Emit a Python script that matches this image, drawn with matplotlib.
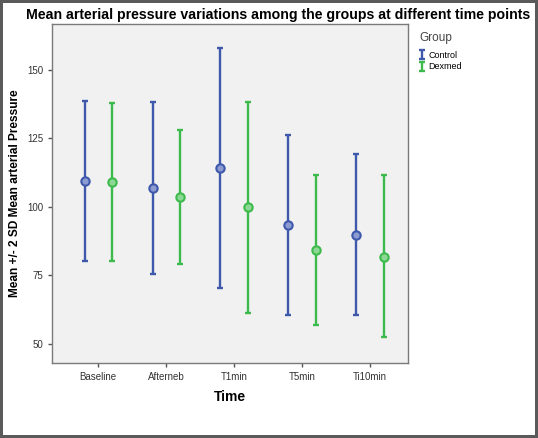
import numpy as np
import matplotlib.pyplot as plt

plt.rcParams["font.family"] = ["Liberation Sans", "DejaVu Sans"]

# ---------- data (mean, mean-2SD, mean+2SD) ----------
time_points = ["Baseline", "Afterneb", "T1min", "T5min", "Ti10min"]

control_mean = [109.3, 106.9, 114.0, 93.3, 89.7]
control_low = [80.2, 75.5, 70.3, 60.5, 60.5]
control_high = [138.4, 138.3, 157.7, 126.0, 119.1]

dexmed_mean = [108.9, 103.5, 99.8, 84.1, 81.7]
dexmed_low = [80.3, 79.1, 61.2, 56.9, 52.3]
dexmed_high = [137.7, 128.0, 138.0, 111.4, 111.4]

groups = ["Control", "Dexmed"]
colors = ["#3E58AC", "#3DBA4C"]
faces = ["#8C9BD0", "#8ED895"]

# ---------- plot ----------
fig = plt.figure(figsize=(5.38, 4.38), dpi=100)
fig.patch.set_edgecolor("#5a5a5a")
fig.patch.set_linewidth(3)

ax = fig.add_axes([52 / 538, 1 - 363 / 438, 356 / 538, 339 / 438])
ax.set_facecolor("#F1F1F1")

x = np.arange(len(time_points))
offsets = [-0.2, 0.2]
series = [
    (control_mean, control_low, control_high),
    (dexmed_mean, dexmed_low, dexmed_high),
]

for (mean, low, high), off, col, fc, name in zip(series, offsets, colors, faces, groups):
    mean = np.array(mean)
    yerr = [mean - np.array(low), np.array(high) - mean]
    ax.errorbar(x + off, mean, yerr=yerr, fmt="none", ecolor=col,
                elinewidth=1.7, capsize=2.3, capthick=1.7, label=name, zorder=2)
    ax.plot(x + off, mean, "o", ms=6, mfc=fc, mec=col, mew=1.5,
            linestyle="none", zorder=3)

ax.set_xlim(-0.68, 4.56)
ax.set_ylim(43, 166.6)
ax.set_xticks(x)
ax.set_xticklabels(time_points)
ax.set_yticks([50, 75, 100, 125, 150])

for s in ax.spines.values():
    s.set_color("#7a7a7a")
    s.set_linewidth(1.0)
ax.tick_params(axis="both", labelsize=7, colors="#333333", length=3,
               width=1, direction="out")
ax.tick_params(axis="both", color="#555555")

ax.set_xlabel("Time", fontsize=10, fontweight="bold", labelpad=6)
ax.set_ylabel("Mean +/- 2 SD Mean arterial Pressure", fontsize=8.6,
              fontweight="bold", labelpad=4)

fig.text(0.517, 0.966, "Mean arterial pressure variations among the groups at different time points",
         ha="center", va="center", fontsize=10.2, fontweight="bold")

leg = ax.legend(title="Group", loc="upper left", bbox_to_anchor=(1.008, 1.0),
                frameon=False, fontsize=6.5, title_fontsize=8.5,
                handlelength=0.6, handletextpad=0.45, labelspacing=0.25)
leg._legend_box.align = "left"
leg.get_title().set_color("#444444")
leg._legend_box.sep = 5

fig.savefig("out.png", dpi=100)
plt.close(fig)
